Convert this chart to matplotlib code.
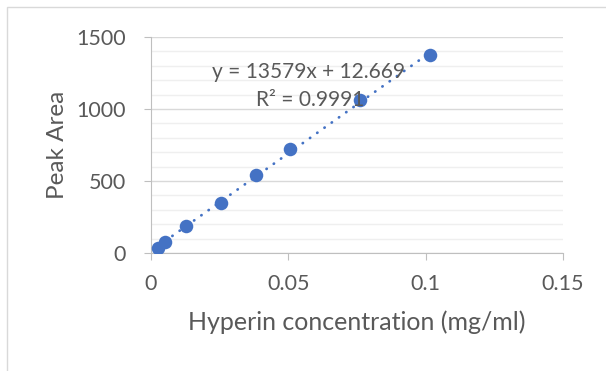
import matplotlib.pyplot as plt
from matplotlib.patches import Rectangle
from matplotlib.ticker import MultipleLocator

# calibration points
conc = [0.00254, 0.00508, 0.0127, 0.0254, 0.0381, 0.0508, 0.0762, 0.1016]
peak_area = [35, 75, 190, 350, 540, 720, 1065, 1375]

slope = 13579
intercept = 12.669
r2_text = "R² = 0.9991"

blue = '#4472C4'
grey_text = '#595959'

plt.rcParams['font.family'] = ['Lato', 'DejaVu Sans']

fig = plt.figure(figsize=(6.06, 3.71), dpi=100)
ax = fig.add_axes([0.249, 0.318, 0.680, 0.582])

# outer chart border like Excel
fig.patches.append(Rectangle((7/606, -0.01), 1.0, 1 - 7/371 + 0.01,
                             transform=fig.transFigure, fill=False,
                             edgecolor='#d9d9d9', linewidth=1))

ax.scatter(conc, peak_area, s=95, color=blue, zorder=3, linewidths=0)

# linear trendline
x_fit = [min(conc), max(conc)]
y_fit = [slope * x + intercept for x in x_fit]
ax.plot(x_fit, y_fit, color=blue, linestyle=(0, (0.1, 3.1)), linewidth=2.0,
        dash_capstyle='round', zorder=2)

ax.text(0.0572, 1257, f"y = {slope}x + {intercept}", ha='center', va='center',
        fontsize=15, color=grey_text, zorder=4)
ax.text(0.0579, 1062, r2_text, ha='center', va='center',
        fontsize=15, color=grey_text, zorder=4)

ax.set_xlim(0, 0.15)
ax.set_ylim(0, 1500)
ax.yaxis.set_major_locator(MultipleLocator(500))
ax.yaxis.set_minor_locator(MultipleLocator(100))
ax.set_xticks([0, 0.05, 0.1, 0.15])
ax.set_xticklabels(['0', '0.05', '0.1', '0.15'])

ax.grid(which='major', axis='y', color='#d9d9d9', linewidth=1)
ax.grid(which='minor', axis='y', color='#efefef', linewidth=1)
ax.set_axisbelow(True)

for side in ['top', 'right']:
    ax.spines[side].set_visible(False)
for side in ['left', 'bottom']:
    ax.spines[side].set_color('#bfbfbf')
ax.tick_params(axis='both', which='major', length=5, color='#bfbfbf',
               labelsize=15.5, labelcolor=grey_text)
ax.tick_params(axis='y', which='major', pad=13)
ax.tick_params(axis='x', which='major', pad=10)
ax.tick_params(axis='y', which='minor', length=0)

ax.set_xlabel('Hyperin concentration (mg/ml)', fontsize=18, color=grey_text)
ax.set_ylabel('Peak Area', fontsize=17.5, color=grey_text)
ax.xaxis.label.set_va('center')
ax.yaxis.label.set_va('center')
ax.xaxis.set_label_coords(0.5, -0.319)
ax.yaxis.set_label_coords(-0.226, 0.5)

fig.savefig('out.png', dpi=100)
